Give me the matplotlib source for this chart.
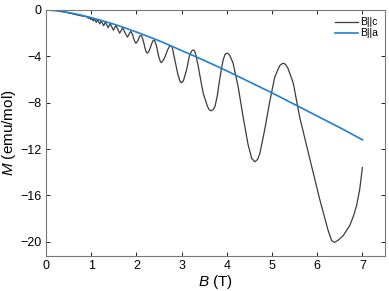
import numpy as np
import matplotlib
matplotlib.use('Agg')
import matplotlib.pyplot as plt

plt.rcParams['font.family'] = ['Liberation Sans', 'DejaVu Sans']
plt.rcParams['mathtext.fontset'] = 'custom'
plt.rcParams['mathtext.it'] = 'Liberation Sans:italic'
plt.rcParams['mathtext.rm'] = 'Liberation Sans'

# B||a : smooth background
b_a = [0, 0.25, 0.5, 0.75, 1.0, 1.25, 1.5, 1.75, 2.0, 2.25, 2.5, 2.75, 3.0,
       3.25, 3.5, 3.75, 4.0, 4.5, 5.0, 5.5, 6.0, 6.5, 7.0]
m_a = [0, -0.06, -0.22, -0.42, -0.66, -0.93, -1.22, -1.55, -1.9, -2.27, -2.65,
       -3.07, -3.5, -3.92, -4.35, -4.8, -5.25, -6.2, -7.15, -8.15, -9.15,
       -10.15, -11.2]

b_c = [0, 0.2, 0.4, 0.6, 0.75, 0.85,
       0.907, 0.935, 0.956, 0.988, 1.011, 1.047, 1.073, 1.114, 1.143, 1.19,
       1.222, 1.275, 1.314, 1.375, 1.42, 1.49, 1.546, 1.63, 1.695,
       1.80, 1.825, 1.851, 1.876, 1.914, 1.952, 1.99, 2.027, 2.063, 2.085, 2.10,
       2.12, 2.147, 2.193, 2.22, 2.24, 2.26, 2.29, 2.34, 2.37, 2.39, 2.41,
       2.443, 2.497, 2.53, 2.55, 2.575, 2.62, 2.69, 2.73,
       2.76, 2.785, 2.80, 2.85, 2.92, 2.97, 3.00, 3.04, 3.11, 3.17, 3.22, 3.25,
       3.27, 3.295, 3.32, 3.37, 3.43, 3.48, 3.57, 3.61, 3.65, 3.70, 3.74, 3.79,
       3.83, 3.88, 3.92, 3.96, 3.99, 4.01, 4.04, 4.07, 4.14, 4.25, 4.36, 4.47,
       4.55, 4.62, 4.68, 4.73, 4.84, 4.95, 5.06, 5.17, 5.22, 5.26, 5.30, 5.35,
       5.47, 5.61, 5.84, 6.06, 6.24, 6.32, 6.38, 6.45, 6.57, 6.72, 6.80, 6.87,
       6.94, 7.0]
m_c = [0, -0.04, -0.17, -0.34, -0.48, -0.55,
       -0.58, -0.72, -0.63, -0.83, -0.69, -0.95, -0.76, -1.07, -0.84, -1.2,
       -0.93, -1.36, -1.04, -1.53, -1.17, -1.74, -1.33, -2.0, -1.55,
       -2.34, -2.2, -1.97, -1.85, -2.1, -2.62, -2.87, -2.7, -2.35, -2.2, -2.18,
       -2.28, -2.57, -3.33, -3.65, -3.72, -3.66, -3.44, -2.88, -2.64, -2.6, -2.7,
       -3.08, -4.06, -4.45, -4.54, -4.45, -4.17, -3.44, -3.15,
       -3.08, -3.18, -3.35, -4.3, -5.6, -6.2, -6.27, -6.1, -5.17, -4.0, -3.55, -3.46,
       -3.45, -3.6, -3.95, -4.9, -6.2, -7.2, -8.3, -8.6, -8.7, -8.6, -8.3, -7.4,
       -6.3, -5.1, -4.3, -3.85, -3.74, -3.73, -3.8, -3.95, -4.6, -6.6, -9.2, -11.6,
       -12.8, -13.1, -12.9, -12.4, -10.3, -7.9, -5.8, -4.8, -4.64, -4.6, -4.7, -5.0,
       -6.3, -9.2, -12.9, -16.4, -19.0, -19.9, -20.05, -19.9, -19.5, -18.6, -17.8, -16.9,
       -15.5, -13.6]

xticks = [0, 1, 2, 3, 4, 5, 6, 7]
yticks = [0, -4, -8, -12, -16, -20]

fig = plt.figure(figsize=(3.89, 2.91), dpi=100)
ax = fig.add_axes([46/389, 1-255.7/291, (385-46)/389, (255.7-10)/291])

ax.plot(b_c, m_c, color='#3c3c3c', lw=0.9, label='B||c')
ax.plot(b_a, m_a, color='#1f7fd0', lw=1.2, label='B||a')

ax.set_xlim(0, 7.5)
ax.set_ylim(-21.2, 0)
ax.set_xticks(xticks)
ax.set_yticks(yticks)
ax.tick_params(direction='in', top=True, right=True, length=3, width=0.6,
               labelsize=9, colors='#000000', pad=3)
for sp in ax.spines.values():
    sp.set_color('#777777')
    sp.set_linewidth(0.8)

ax.set_xlabel('$B$ (T)', fontsize=11, labelpad=1)
ax.set_ylabel('$M$ (emu/mol)', fontsize=11, labelpad=2)

leg = ax.legend(loc='upper right', frameon=False, fontsize=7.5,
                handlelength=2.2, handletextpad=0.2, labelspacing=0.1,
                borderaxespad=0.3)

fig.savefig('out.png', dpi=100)
